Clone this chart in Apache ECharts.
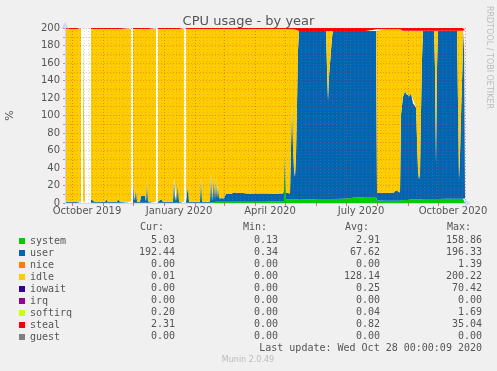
<!DOCTYPE html>
<html><head><meta charset="utf-8">
<script src="https://cdn.jsdelivr.net/npm/echarts@6/dist/echarts.min.js"></script>
<style>html,body{margin:0;padding:0;background:#F0F0F0}#c{width:497px;height:371px}</style>
</head><body><div id="c"></div><script>
// ---------- data (daily averages) ----------
const dates = [
'2019-09-25','2019-09-29','2019-10-03','2019-10-06','2019-10-08','2019-10-10','2019-10-11','2019-10-12','2019-10-14','2019-10-17',
'2019-10-20','2019-10-22','2019-10-24','2019-11-03','2019-11-04','2019-11-06','2019-11-15','2019-11-16','2019-11-18','2019-11-29',
'2019-11-30','2019-12-01','2019-12-02','2019-12-03','2019-12-04','2019-12-05','2019-12-08','2019-12-09','2019-12-13','2019-12-14',
'2019-12-15','2019-12-16','2019-12-24','2019-12-25','2019-12-26','2019-12-29','2019-12-31','2020-01-10','2020-01-11','2020-01-12',
'2020-01-14','2020-01-15','2020-01-16','2020-01-21','2020-01-22','2020-01-23','2020-01-25','2020-01-26','2020-02-06','2020-02-07',
'2020-02-08','2020-02-16','2020-02-17','2020-02-18','2020-02-19','2020-02-20','2020-02-21','2020-02-22','2020-02-23','2020-02-24',
'2020-02-25','2020-03-01','2020-03-03','2020-03-08','2020-03-11','2020-03-20','2020-03-26','2020-04-02','2020-04-12','2020-04-20',
'2020-04-29','2020-04-30','2020-05-01','2020-05-02','2020-05-06','2020-05-08','2020-05-09','2020-05-10','2020-05-11','2020-05-12',
'2020-05-13','2020-05-14','2020-05-15','2020-05-25','2020-06-05','2020-06-11','2020-06-12','2020-06-13','2020-06-14','2020-06-15',
'2020-06-17','2020-06-18','2020-06-28','2020-07-08','2020-07-20','2020-07-31','2020-08-01','2020-08-10','2020-08-18','2020-08-20',
'2020-08-24','2020-08-25','2020-08-27','2020-08-29','2020-08-31','2020-09-02','2020-09-04','2020-09-06','2020-09-07','2020-09-09',
'2020-09-10','2020-09-11','2020-09-12','2020-09-13','2020-09-14','2020-09-15','2020-09-16','2020-09-27','2020-09-28','2020-09-29',
'2020-09-30','2020-10-01','2020-10-10','2020-10-20','2020-10-21','2020-10-22','2020-10-23','2020-10-24','2020-10-25','2020-10-26',
'2020-10-27','2020-10-28'
];
const systemVals = [
0.3,0.3,0.3,0.3,0.3,0.3,null,0.3,0.3,null,
0.3,0.3,0.3,0.3,0.3,0.3,0.3,0.3,0.3,0.3,
null,0.3,0.3,0.3,0.3,0.3,0.3,0.3,0.3,0.3,
0.3,0.3,0.3,null,0.3,0.3,0.3,0.3,0.3,0.3,
0.3,0.3,0.3,0.3,null,0.3,0.3,0.3,0.3,0.3,
0.3,0.3,0.3,0.3,0.5,0.5,1.0,1.5,1.5,1.5,
1.5,1.5,1.5,1.5,1.5,1.5,1.5,1.5,1.5,2.0,
2.0,2.0,48.0,4.0,4.0,4.0,4.0,4.0,4.0,4.0,
4.0,4.5,4.5,4.0,4.5,4.5,4.5,4.5,4.5,4.5,
4.5,4.5,5.0,6.0,7.0,7.0,3.0,2.5,2.5,2.5,
2.5,3.0,3.5,3.5,3.5,3.5,4.0,4.0,4.0,4.0,
4.0,4.0,4.0,4.0,4.5,4.5,4.5,4.5,4.5,4.5,
4.5,4.5,5.0,5.0,5.0,5.0,5.0,5.0,5.0,5.0,
5.0,5.03
];
const userVals = [
1.0,0.8,1.5,1.2,2.8,1.0,null,1.0,1.0,null,
4.0,2.0,0.8,0.8,4.0,0.8,0.8,4.0,1.0,1.0,
null,24.0,2.0,2.0,16.0,1.0,1.0,8.0,8.0,1.5,
26.0,1.5,1.5,null,1.2,4.0,1.2,1.2,28.0,1.5,
1.5,22.0,1.2,1.2,null,1.2,20.0,1.2,1.2,30.0,
1.2,1.2,34.0,1.5,1.5,30.0,3.0,28.0,4.0,20.0,
4.0,4.0,9.0,9.0,10.5,10.0,9.0,9.5,9.5,8.5,
9.0,10.0,14.0,8.0,7.0,111.0,60.0,35.0,26.0,50.0,
110.0,170.0,192.0,192.5,192.0,192.0,150.0,113.0,140.0,155.0,
185.0,192.0,191.5,190.5,189.5,189.5,9.0,9.0,9.5,12.0,
9.5,98.0,118.0,124.0,120.0,118.0,121.0,110.0,112.0,105.0,
70.0,35.0,23.0,30.0,100.0,160.0,192.5,192.5,150.0,40.0,
150.0,192.5,192.0,192.0,110.0,22.0,50.0,95.0,135.0,170.0,
192.0,192.44
];
const idleVals = [
197.7,197.9,197.2,197.5,195.9,197.7,null,197.7,197.7,null,
194.7,196.7,197.9,197.9,194.7,197.9,197.9,194.7,197.7,197.7,
null,174.7,196.7,196.7,182.7,197.7,197.7,190.7,190.7,197.2,
172.7,197.2,197.2,null,197.5,194.7,197.5,197.5,170.7,197.2,
197.2,176.7,197.5,197.5,null,197.5,178.7,197.5,197.5,168.7,
197.5,197.5,164.7,197.2,197.0,168.5,195.0,169.5,193.5,177.5,
193.5,193.5,188.5,188.5,187.0,187.5,188.5,188.0,188.0,188.5,
188.0,187.0,137.0,187.0,187.5,83.5,134.5,159.5,168.5,144.0,
83.0,22.0,0.0,0.0,0.0,0.0,42.0,79.0,52.0,37.0,
7.0,0.0,0.0,0.0,0.0,0.0,186.5,187.0,186.5,184.0,
186.5,96.0,75.5,69.5,73.5,75.5,72.0,83.0,81.0,88.0,
123.0,158.0,170.0,163.0,92.5,32.5,0.0,0.0,42.5,152.5,
42.5,0.0,0.0,0.0,82.0,170.0,142.0,97.0,57.0,22.0,
0.0,0.01
];
const stealVals = [
1.0,1.0,1.0,1.0,1.0,1.0,null,1.0,1.0,null,
1.0,1.0,1.0,1.0,1.0,1.0,1.0,1.0,1.0,1.0,
null,1.0,1.0,1.0,1.0,1.0,1.0,1.0,1.0,1.0,
1.0,1.0,1.0,null,1.0,1.0,1.0,1.0,1.0,1.0,
1.0,1.0,1.0,1.0,null,1.0,1.0,1.0,1.0,1.0,
1.0,1.0,1.0,1.0,1.0,1.0,1.0,1.0,1.0,1.0,
1.0,1.0,1.0,1.0,1.0,1.0,1.0,1.0,1.0,1.0,
1.0,1.0,1.0,1.0,1.5,1.5,1.5,1.5,1.5,2.0,
3.0,3.5,3.5,3.5,3.5,3.5,3.5,3.5,3.5,3.5,
3.5,3.5,3.5,3.5,3.5,3.5,1.5,1.5,1.5,1.5,
1.5,3.0,3.0,3.0,3.0,3.0,3.0,3.0,3.0,3.0,
3.0,3.0,3.0,3.0,3.0,3.0,3.0,3.0,3.0,3.0,
3.0,3.0,3.0,3.0,3.0,3.0,3.0,3.0,3.0,3.0,
3.0,2.31
];
const seriesNames  = ['system','user','nice','idle','iowait','irq','softirq','steal','guest'];
const seriesColors = ['#00CC00','#0066B3','#FF8000','#FFCC00','#330099','#990099','#CCFF00','#FF0000','#808080'];
const curVals = ['5.03','192.44','0.00','0.01','0.00','0.00','0.20','2.31','0.00'];
const minVals = ['0.13','0.34','0.00','0.00','0.00','0.00','0.00','0.00','0.00'];
const avgVals = ['2.91','67.62','0.00','128.14','0.25','0.00','0.04','0.82','0.00'];
const maxVals = ['158.86','196.33','1.39','200.22','70.42','0.00','1.69','35.04','0.00'];
const xLabelMonths = ['2019-10','2020-01','2020-04','2020-07','2020-10'];
const xLabelTexts  = ['October 2019','January 2020','April 2020','July 2020','October 2020'];
const yLabelStep = 20;

// ---------- build ----------
const valuesByName = { system: systemVals, user: userVals, idle: idleVals, steal: stealVals };
const chart = echarts.init(document.getElementById('c'), null, { renderer: 'canvas' });
const FONT = 'DejaVu Sans';
const MONO = 'DejaVu Sans Mono';
const TXT = '#555';

const series = seriesNames.map((n, k) => {
  const vals = valuesByName[n];
  return {
    name: n, type: 'line', stack: 'cpu', color: seriesColors[k],
    data: vals ? dates.map((d, i) => [d, vals[i] === null ? '-' : vals[i]]) : [],
    symbol: 'none', showSymbol: false, connectNulls: false,
    lineStyle: { width: 0 }, itemStyle: { color: seriesColors[k] },
    areaStyle: { color: seriesColors[k], opacity: 1 },
    emphasis: { disabled: true }, z: 2
  };
});

function pad2(n) { return n < 10 ? '0' + n : '' + n; }
const xLabelFormatter = (value) => {
  const d = new Date(value);
  if (d.getDate() !== 1) return '';
  const key = d.getFullYear() + '-' + pad2(d.getMonth() + 1);
  const i = xLabelMonths.indexOf(key);
  return i >= 0 ? xLabelTexts[i] : '';
};

const graphics = [];
const colX = [175, 278, 380, 482];
const headX = [140, 243, 345, 447];
['Cur:', 'Min:', 'Avg:', 'Max:'].forEach((h, j) => graphics.push({
  type: 'text', x: headX[j], y: 227, silent: true,
  style: { text: h, font: '10px "' + MONO + '"', fill: TXT, textAlign: 'left', textVerticalAlign: 'middle' }
}));
seriesNames.forEach((n, i) => {
  const y = 240 + i * 12;
  [curVals[i], minVals[i], avgVals[i], maxVals[i]].forEach((v, j) => graphics.push({
    type: 'text', x: colX[j], y: y, silent: true,
    style: { text: v, font: '10px "' + MONO + '"', fill: TXT, textAlign: 'right', textVerticalAlign: 'middle' }
  }));
});
graphics.push({ type: 'text', x: 482, y: 348, silent: true,
  style: { text: 'Last update: Wed Oct 28 00:00:09 2020', font: '10px "' + MONO + '"', fill: TXT, textAlign: 'right', textVerticalAlign: 'middle' } });
graphics.push({ type: 'text', x: 248, y: 360, silent: true,
  style: { text: 'Munin 2.0.49', font: '8px "' + FONT + '"', fill: '#bbbbbb', textAlign: 'center', textVerticalAlign: 'middle' } });
graphics.push({ type: 'text', x: 489, y: 6, rotation: -Math.PI / 2, silent: true,
  style: { text: 'RRDTOOL / TOBI OETIKER', font: '8px "' + FONT + '"', fill: '#bbbbbb', textAlign: 'left', textVerticalAlign: 'middle' } });

const option = {
  animation: false,
  backgroundColor: '#F0F0F0',
  title: { text: 'CPU usage - by year', left: 'center', top: 10,
    textStyle: { fontFamily: FONT, fontSize: 13, fontWeight: 'normal', color: TXT } },
  grid: { left: 65, right: 32, top: 28, bottom: 168, show: true, backgroundColor: '#FFFFFF', borderWidth: 0,
    containLabel: false, outerBoundsMode: 'none' },
  legend: {
    data: seriesNames, orient: 'vertical', left: 14, top: 231, itemWidth: 6, itemHeight: 6, itemGap: 2,
    icon: 'rect', selectedMode: false,
    itemStyle: { borderWidth: 0 },
    textStyle: { fontFamily: MONO, fontSize: 10, color: TXT, padding: [0, 0, 0, 0] }
  },
  xAxis: [{
    type: 'time', min: '2019-09-24', max: '2020-10-28',
    minInterval: 28 * 864e5, maxInterval: 31 * 864e5, z: 3,
    axisLine: { show: true, onZero: false, lineStyle: { color: '#CFD6F8' }, symbol: ['none', 'arrow'], symbolSize: [6, 7], symbolOffset: [0, 6] },
    axisTick: { show: true, length: 3, lineStyle: { color: 'rgba(255,0,0,0.55)' } },
    splitLine: { show: true, lineStyle: { type: [1, 2], color: 'rgba(255,0,0,0.35)' } },
    axisLabel: { formatter: xLabelFormatter, padding: [0, 0, 0, 30], margin: 3, color: TXT, fontFamily: FONT, fontSize: 10, hideOverlap: false }
  }, {
    type: 'time', min: '2019-09-24', max: '2020-10-28', position: 'bottom',
    minInterval: 7 * 864e5, maxInterval: 7 * 864e5, z: 3,
    axisLine: { show: false }, axisTick: { show: false }, axisLabel: { show: false },
    splitLine: { show: true, lineStyle: { type: [1, 2], color: 'rgba(140,140,140,0.3)' } }
  }],
  yAxis: {
    type: 'value', min: 0, max: 200, interval: 10, z: 3,
    name: '%', nameLocation: 'middle', nameGap: 49, nameRotate: 90,
    nameTextStyle: { fontFamily: FONT, fontSize: 11, color: TXT },
    axisLine: { show: true, lineStyle: { color: '#CFD6F8' }, symbol: ['none', 'arrow'], symbolSize: [6, 7], symbolOffset: [0, 6] },
    axisTick: { show: true, length: 2, lineStyle: { color: 'rgba(255,0,0,0.5)' } },
    splitLine: { show: true, lineStyle: { type: [1, 2], color: 'rgba(255,0,0,0.28)' } },
    axisLabel: { formatter: v => (v % yLabelStep === 0 ? String(v) : ''), margin: 5, color: TXT, fontFamily: FONT, fontSize: 10 }
  },
  graphic: graphics,
  series: series
};
chart.setOption(option);
</script></body></html>
